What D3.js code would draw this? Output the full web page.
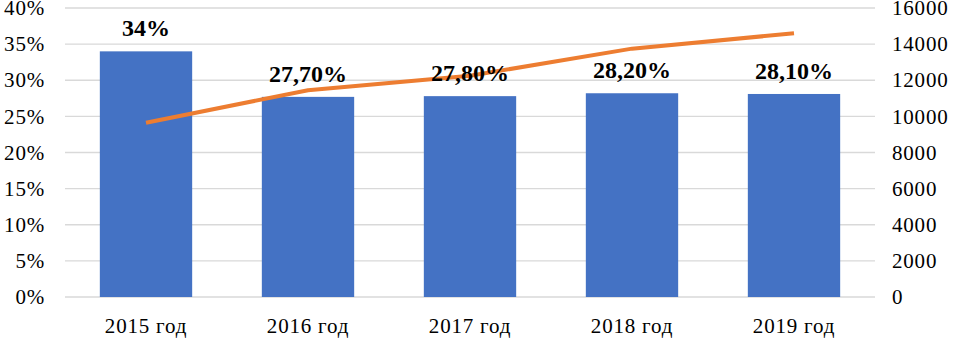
<!DOCTYPE html>
<html>
<head>
<meta charset="utf-8">
<script src="https://cdn.jsdelivr.net/npm/d3@7"></script>
<style>
  body { margin: 0; background: #fff; }
  svg text { font-family: "Liberation Serif", "Times New Roman", serif; fill: #000; }
</style>
</head>
<body>
<div id="chart"></div>
<script>
// Данные
const years = ["2015 год", "2016 год", "2017 год", "2018 год", "2019 год"];
const shareValues = [34, 27.7, 27.8, 28.2, 28.1];
const shareLabels = ["34%", "27,70%", "27,80%", "28,20%", "28,10%"];
const lineValues = [9650, 11450, 12250, 13750, 14600];
const leftTicks = [0, 5, 10, 15, 20, 25, 30, 35, 40];
const rightTicks = [0, 2000, 4000, 6000, 8000, 10000, 12000, 14000, 16000];

const W = 960, H = 339;
const margin = { top: 8, right: 85, bottom: 42, left: 65 };
const width = W - margin.left - margin.right;
const height = H - margin.top - margin.bottom;

const svg = d3.select("#chart").append("svg")
    .attr("width", W)
    .attr("height", H)
  .append("g")
    .attr("transform", `translate(${margin.left},${margin.top})`);

const x = d3.scaleBand().domain(years).range([0, width]).paddingInner(0.43).paddingOuter(0.215);
const yL = d3.scaleLinear().domain([0, 40]).range([height, 0]);
const yR = d3.scaleLinear().domain([0, 16000]).range([height, 0]);

// Сетка
svg.append("g").selectAll("line")
  .data(leftTicks)
  .join("line")
    .attr("x1", 0).attr("x2", width)
    .attr("y1", d => yL(d)).attr("y2", d => yL(d))
    .attr("stroke", "#d9d9d9").attr("stroke-width", 1.3);

// Оси
const leftAxis = svg.append("g")
  .call(d3.axisLeft(yL).tickValues(leftTicks).tickFormat(d => d + "%").tickSize(0).tickPadding(20));
const rightAxis = svg.append("g")
  .attr("transform", `translate(${width},0)`)
  .call(d3.axisRight(yR).tickValues(rightTicks).tickFormat(d => d).tickSize(0).tickPadding(17));
const bottomAxis = svg.append("g")
  .attr("transform", `translate(0,${height})`)
  .call(d3.axisBottom(x).tickSize(0).tickPadding(21));

[leftAxis, rightAxis, bottomAxis].forEach(g => {
  g.select(".domain").remove();
  g.selectAll("text").style("font-size", "21px").style("letter-spacing", "0.8px");
});

// Столбцы
svg.selectAll(".bar")
  .data(shareValues)
  .join("rect")
    .attr("class", "bar")
    .attr("x", (d, i) => x(years[i]))
    .attr("y", d => yL(d))
    .attr("width", x.bandwidth())
    .attr("height", d => height - yL(d))
    .attr("fill", "#4472c4");

// Линия
const line = d3.line()
  .x((d, i) => x(years[i]) + x.bandwidth() / 2)
  .y(d => yR(d));

svg.append("path")
  .datum(lineValues)
  .attr("d", line)
  .attr("fill", "none")
  .attr("stroke", "#ed7d31")
  .attr("stroke-width", 4)
  .attr("stroke-linejoin", "round");

// Подписи значений
svg.selectAll(".value-label")
  .data(shareValues)
  .join("text")
    .attr("class", "value-label")
    .attr("x", (d, i) => x(years[i]) + x.bandwidth() / 2)
    .attr("y", d => yL(d) - 15)
    .attr("text-anchor", "middle")
    .style("font-size", "24px")
    .style("font-weight", "bold")
    .text((d, i) => shareLabels[i]);
</script>
</body>
</html>
